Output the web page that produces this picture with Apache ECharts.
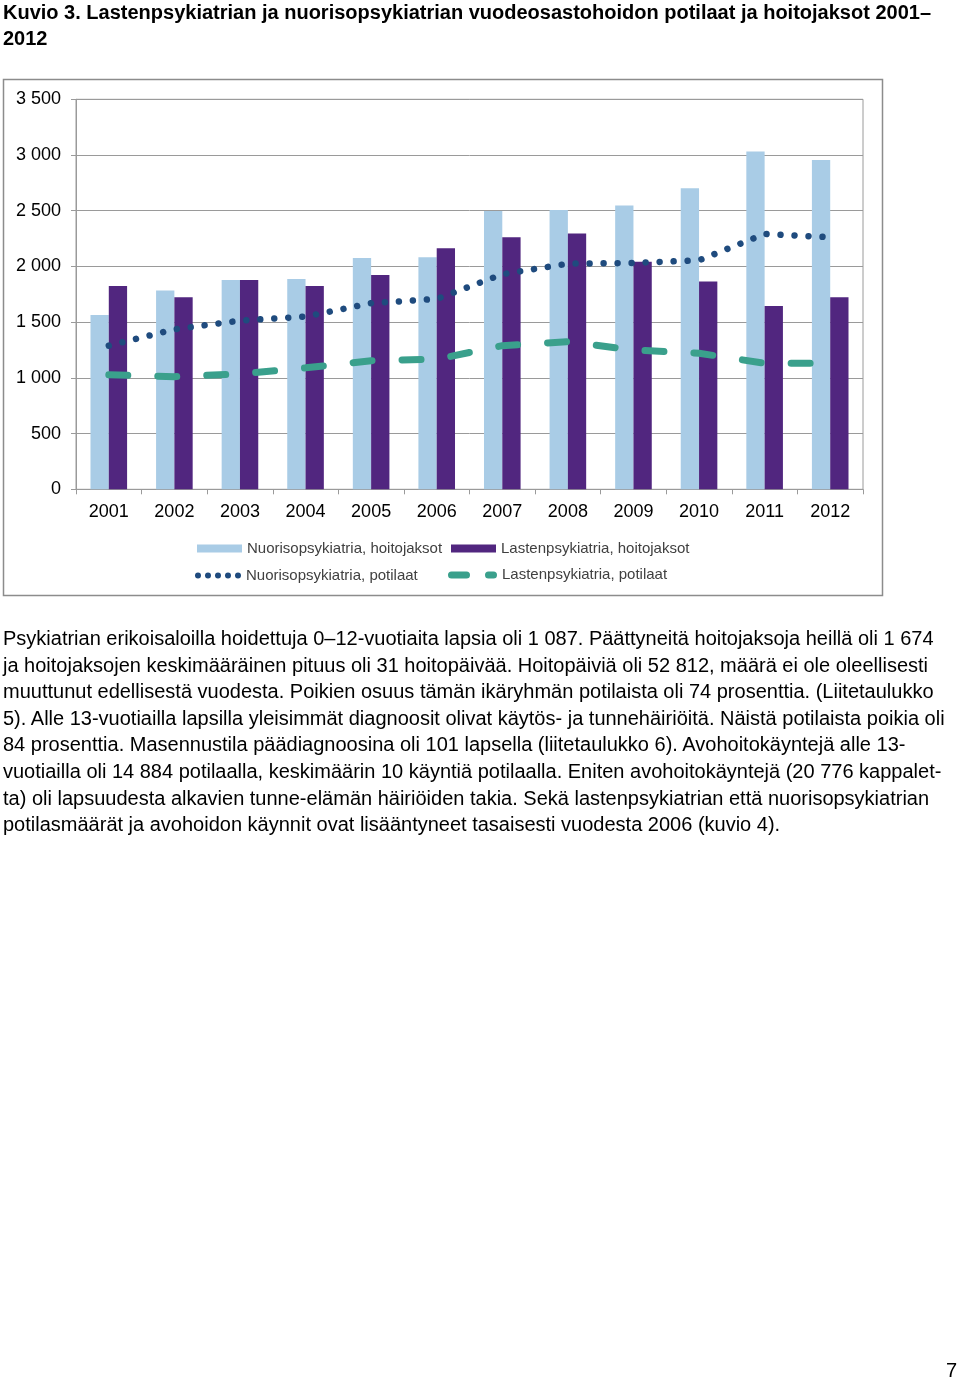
<!DOCTYPE html>
<html>
<head>
<meta charset="utf-8">
<script src="https://cdn.jsdelivr.net/npm/echarts@6/dist/echarts.min.js"></script>
<style>
  html, body { margin: 0; padding: 0; background: #fff; }
  body { width: 960px; height: 1380px; position: relative; overflow: hidden; font-family: "Liberation Sans", Arial, sans-serif; }
  #chart { position: absolute; left: 0; top: 0; width: 960px; height: 1380px; }
  .title { position: absolute; left: 3px; top: -1px; font-weight: bold; font-size: 20px; line-height: 26px; color: #000; white-space: nowrap; }
  .para { position: absolute; left: 3px; top: 625px; font-size: 20px; line-height: 26.6px; color: #000; white-space: nowrap; }
  .page { position: absolute; right: 3px; top: 1357px; font-size: 20px; line-height: 26px; color: #000; }
</style>
</head>
<body>
<div id="chart"></div>
<div class="title">Kuvio 3. Lastenpsykiatrian ja nuorisopsykiatrian vuodeosastohoidon potilaat ja hoitojaksot 2001–<br>2012</div>
<div class="para">Psykiatrian erikoisaloilla hoidettuja 0–12-vuotiaita lapsia oli 1 087. Päättyneitä hoitojaksoja heillä oli 1 674<br>ja hoitojaksojen keskimääräinen pituus oli 31 hoitopäivää. Hoitopäiviä oli 52 812, määrä ei ole oleellisesti<br>muuttunut edellisestä vuodesta. Poikien osuus tämän ikäryhmän potilaista oli 74 prosenttia. (Liitetaulukko<br>5). Alle 13-vuotiailla lapsilla yleisimmät diagnoosit olivat käytös- ja tunnehäiriöitä. Näistä potilaista poikia oli<br>84 prosenttia. Masennustila päädiagnoosina oli 101 lapsella (liitetaulukko 6). Avohoitokäyntejä alle 13-<br>vuotiailla oli 14 884 potilaalla, keskimäärin 10 käyntiä potilaalla. Eniten avohoitokäyntejä (20 776 kappalet-<br>ta) oli lapsuudesta alkavien tunne-elämän häiriöiden takia. Sekä lastenpsykiatrian että nuorisopsykiatrian<br>potilasmäärät ja avohoidon käynnit ovat lisääntyneet tasaisesti vuodesta 2006 (kuvio 4).</div>
<div class="page">7</div>
<script>
var years = ['2001','2002','2003','2004','2005','2006','2007','2008','2009','2010','2011','2012'];
var nuorisoHoitojaksot = [1565, 1783, 1879, 1888, 2076, 2083, 2498, 2507, 2546, 2702, 3031, 2956];
var lastenHoitojaksot = [1825, 1723, 1879, 1825, 1924, 2163, 2262, 2295, 2043, 1864, 1645, 1723];
var nuorisoPotilaat = [1289, 1436, 1514, 1550, 1670, 1708, 1930, 2025, 2031, 2055, 2292, 2262];
var lastenPotilaat = [1028, 1011, 1035, 1090, 1154, 1167, 1289, 1325, 1250, 1221, 1131, 1131];
var seriesNames = ['Nuorisopsykiatria, hoitojaksot', 'Lastenpsykiatria, hoitojaksot', 'Nuorisopsykiatria, potilaat', 'Lastenpsykiatria, potilaat'];

var cLight = '#a9cce6', cDark = '#51267f', cNavy = '#1f4b7e', cTeal = '#3aa08c';
var font = '"Liberation Sans", Arial, sans-serif';

function circ(cx, r) { return 'M' + (cx - r) + ',' + r + ' A' + r + ',' + r + ' 0 1,0 ' + (cx + r) + ',' + r + ' A' + r + ',' + r + ' 0 1,0 ' + (cx - r) + ',' + r + ' Z '; }
var dotsIcon = 'path://' + circ(3, 3) + circ(13, 3) + circ(23, 3) + circ(33, 3) + circ(43, 3);
var dashIcon = 'path://M3.5,0 L18.5,0 A3.5,3.5 0 0,1 18.5,7 L3.5,7 A3.5,3.5 0 0,1 3.5,0 Z M40.5,0 L45.5,0 A3.5,3.5 0 0,1 45.5,7 L40.5,7 A3.5,3.5 0 0,1 40.5,0 Z';

var chart = echarts.init(document.getElementById('chart'), null, {renderer: 'canvas'});
function legend(name, left, top, w, h, icon) {
  var l = {
    data: [name], left: left, top: top, padding: 0, itemWidth: w, itemHeight: h, itemGap: 5,
    textStyle: {fontFamily: font, fontSize: 15, color: '#404040'},
    selectedMode: false
  };
  if (icon) l.icon = icon;
  return l;
}
chart.setOption({
  animation: false,
  graphic: [{
    type: 'rect', shape: {x: 3.5, y: 79.5, width: 879, height: 516},
    style: {fill: 'none', stroke: '#8c8c8c', lineWidth: 1.5}, silent: true
  }],
  grid: {left: 76, top: 99.3, width: 787, height: 390, show: true, borderColor: '#9a9a9a', borderWidth: 1, backgroundColor: 'transparent'},
  legend: [
    legend(seriesNames[0], 197, 541, 45, 8, 'rect'),
    legend(seriesNames[1], 451, 541, 45, 8, 'rect'),
    legend(seriesNames[2], 195, 568, 46, 6, dotsIcon),
    legend(seriesNames[3], 448, 567.5, 49, 7, dashIcon)
  ],
  xAxis: {
    type: 'category', data: years,
    axisLine: {lineStyle: {color: '#9a9a9a', width: 1}},
    axisTick: {show: true, length: 5, lineStyle: {color: '#9a9a9a'}},
    axisLabel: {fontFamily: font, fontSize: 18, color: '#000', margin: 14}
  },
  yAxis: {
    type: 'value', min: 0, max: 3500, interval: 500,
    axisLine: {show: true, lineStyle: {color: '#9a9a9a', width: 1}},
    axisTick: {show: true, length: 5, lineStyle: {color: '#9a9a9a'}},
    splitLine: {lineStyle: {color: '#9a9a9a', width: 1}},
    axisLabel: {fontFamily: font, fontSize: 18, color: '#000', margin: 15,
      formatter: function (v) { return v >= 1000 ? Math.floor(v/1000) + ' ' + String(v % 1000).padStart(3, '0') : String(v); }}
  },
  series: [
    {name: seriesNames[0], type: 'bar', data: nuorisoHoitojaksot, barWidth: 18.3, barGap: '0%', itemStyle: {color: cLight}},
    {name: seriesNames[1], type: 'bar', data: lastenHoitojaksot, barWidth: 18.3, barGap: '0%', itemStyle: {color: cDark}},
    {name: seriesNames[2], type: 'line', data: nuorisoPotilaat, symbol: 'none', z: 5,
      lineStyle: {color: cNavy, width: 6.5, type: [0.01, 14], cap: 'round'}, itemStyle: {color: cNavy}},
    {name: seriesNames[3], type: 'line', data: lastenPotilaat, symbol: 'none', z: 5,
      lineStyle: {color: cTeal, width: 7, type: [19, 30], cap: 'round'}, itemStyle: {color: cTeal}}
  ]
});
</script>
</body>
</html>
